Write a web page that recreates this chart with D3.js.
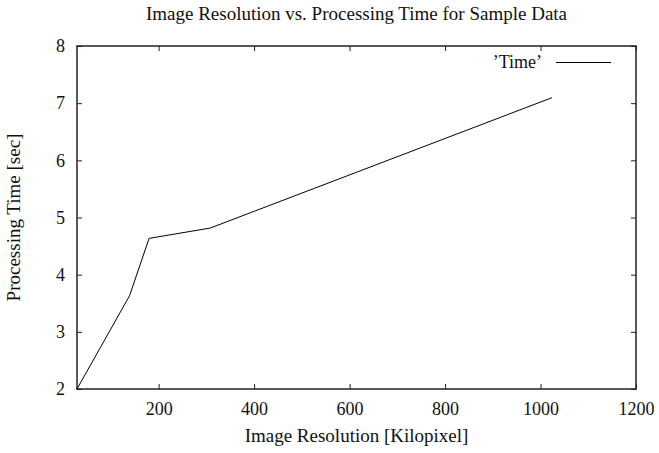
<!DOCTYPE html>
<html><head><meta charset="utf-8">
<script src="https://cdn.jsdelivr.net/npm/d3@7"></script>
<style>body{margin:0;background:#fff}</style>
</head><body>
<svg id="c" width="659" height="453"></svg>
<script>
const resolution = [29, 139, 180, 308, 1024];
const timeSec = [2.0, 3.63, 4.635, 4.815, 7.096];
const xTicks = [200, 400, 600, 800, 1000, 1200];
const yTicks = [2, 3, 4, 5, 6, 7, 8];
const seriesName = "\u2019Time\u2019";

(function () {
const FONT = "'Liberation Serif', 'DejaVu Serif', serif";
const svg = d3.select("#c");
const L = 77, R = 636, T = 46, B = 389;
const x = d3.scaleLinear().domain([29, 1200]).range([L, R]);
const y = d3.scaleLinear().domain([2, 8]).range([B, T]);

const gBottom = svg.append("g").attr("transform", `translate(0,${B})`)
  .call(d3.axisBottom(x).tickValues(xTicks).tickSize(-5).tickPadding(13).tickFormat(d3.format("d")));
const gTop = svg.append("g").attr("transform", `translate(0,${T})`)
  .call(d3.axisTop(x).tickValues(xTicks).tickSize(-5).tickFormat(""));
const gLeft = svg.append("g").attr("transform", `translate(${L},0)`)
  .call(d3.axisLeft(y).tickValues(yTicks).tickSize(-5).tickPadding(12).tickFormat(d3.format("d")));
const gRight = svg.append("g").attr("transform", `translate(${R},0)`)
  .call(d3.axisRight(y).tickValues(yTicks).tickSize(-5).tickFormat(""));
[gBottom, gTop, gLeft, gRight].forEach(g => {
  g.attr("font-family", FONT).attr("font-size", 18);
  g.select(".domain").remove();
  g.selectAll(".tick line").attr("stroke", "#222").attr("stroke-width", 1);
  g.selectAll("text").attr("font-family", FONT).attr("font-size", 18).attr("fill", "#111");
});

svg.append("rect").attr("x", L).attr("y", T).attr("width", R - L).attr("height", B - T)
  .attr("fill", "none").attr("stroke", "#222").attr("stroke-width", 1.5);

svg.append("path").datum(resolution.map((r, i) => [r, timeSec[i]]))
  .attr("d", d3.line().x(d => x(d[0])).y(d => y(d[1])))
  .attr("fill", "none").attr("stroke", "#000").attr("stroke-width", 1);

svg.append("text").attr("x", 542).attr("y", 68).attr("text-anchor", "end")
  .attr("font-family", FONT).attr("font-size", 18).attr("fill", "#111").text(seriesName);
svg.append("line").attr("x1", 556).attr("x2", 611).attr("y1", 62.5).attr("y2", 62.5)
  .attr("stroke", "#000").attr("stroke-width", 1);

svg.append("text").attr("x", 356.5).attr("y", 19.5).attr("text-anchor", "middle")
  .attr("font-family", FONT).attr("font-size", 19).attr("fill", "#111")
  .text("Image Resolution vs. Processing Time for Sample Data");
svg.append("text").attr("x", 356.5).attr("y", 442).attr("text-anchor", "middle")
  .attr("font-family", FONT).attr("font-size", 19).attr("fill", "#111")
  .text("Image Resolution [Kilopixel]");
svg.append("text").attr("transform", `translate(20,217.5) rotate(-90)`)
  .attr("text-anchor", "middle").attr("font-family", FONT).attr("font-size", 19).attr("fill", "#111")
  .text("Processing Time [sec]");
})();
</script>
</body></html>
